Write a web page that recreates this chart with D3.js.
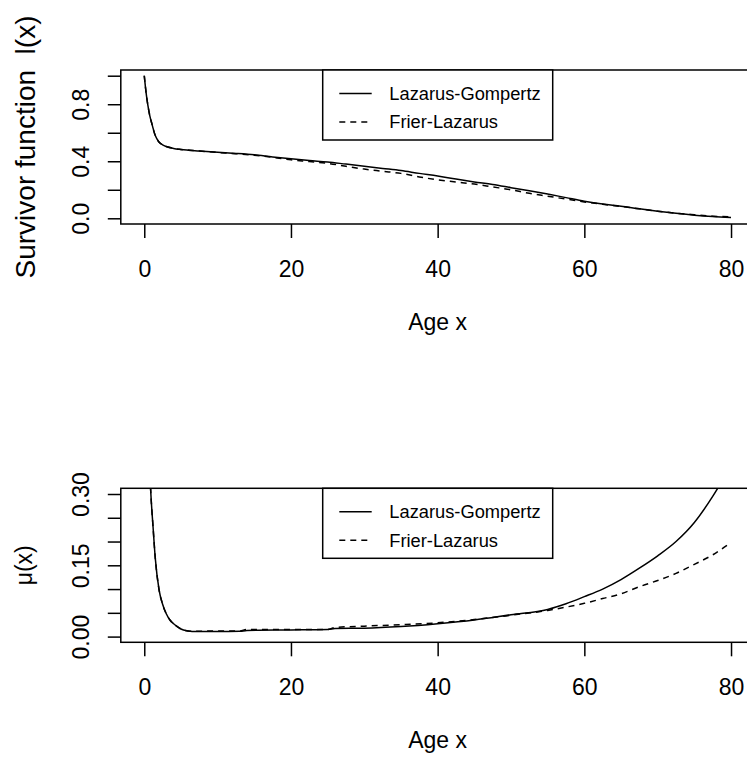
<!DOCTYPE html>
<html>
<head>
<meta charset="utf-8">
<script src="https://cdn.jsdelivr.net/npm/d3@7"></script>
<style>
  html, body { margin: 0; padding: 0; background: #fff; }
  svg { display: block; font-family: "Liberation Sans", Arial, Helvetica, sans-serif; }
</style>
</head>
<body>
<svg id="chart" width="747" height="760"></svg>
<script>
// Age grid and survivor function l(x) for the two fitted models
const agesL = [0, 0.25, 0.5, 0.75, 1, 1.5, 2, 2.5, 3, 4, 5,
  7.5, 10, 12.5, 15, 17.5, 20, 22.5, 25, 27.5, 30, 32.5, 35, 37.5, 40,
  42.5, 45, 47.5, 50, 52.5, 55, 57.5, 60, 62.5, 65, 67.5, 70, 72.5, 75, 77.5, 80];
const survLG = [1.0, 0.88, 0.79, 0.72, 0.67, 0.58, 0.535, 0.515, 0.503, 0.49, 0.483,
  0.472, 0.463, 0.455, 0.445, 0.43, 0.417, 0.405, 0.395, 0.38, 0.365, 0.35, 0.335, 0.315, 0.297,
  0.275, 0.255, 0.237, 0.215, 0.193, 0.17, 0.145, 0.12, 0.1, 0.085, 0.067, 0.05, 0.035, 0.022, 0.012, 0.005];
const survFL = [1.0, 0.88, 0.79, 0.72, 0.67, 0.58, 0.535, 0.515, 0.503, 0.49, 0.483,
  0.472, 0.462, 0.453, 0.442, 0.428, 0.41, 0.398, 0.385, 0.365, 0.345, 0.33, 0.315, 0.29, 0.27,
  0.255, 0.24, 0.22, 0.2, 0.175, 0.155, 0.135, 0.115, 0.098, 0.083, 0.067, 0.05, 0.036, 0.025, 0.015, 0.01];

// Age grid and force of mortality mu(x)
const agesMu = [0, 0.5, 0.9, 1.2, 1.5, 2, 2.5, 3, 3.5, 4, 4.5, 5, 6, 7, 10, 13, 14, 20, 25, 26,
  30, 35, 40, 45, 50, 55, 57.5, 60, 62.5, 65, 67.5, 70, 72.5, 75, 77.5, 80];
const muLG = [0.8, 0.45, 0.30, 0.23, 0.165, 0.10, 0.068, 0.048, 0.035, 0.027, 0.021, 0.016, 0.012, 0.0105, 0.0105, 0.011, 0.013, 0.014, 0.015, 0.017,
  0.0176, 0.021, 0.027, 0.035, 0.046, 0.057, 0.069, 0.084, 0.1, 0.12, 0.144, 0.17, 0.2, 0.24, 0.295, 0.36];
const muFL = [0.8, 0.45, 0.30, 0.23, 0.165, 0.10, 0.068, 0.048, 0.035, 0.027, 0.021, 0.016, 0.012, 0.011, 0.012, 0.012, 0.015, 0.015, 0.015, 0.019,
  0.022, 0.025, 0.029, 0.036, 0.045, 0.055, 0.062, 0.070, 0.08, 0.09, 0.105, 0.118, 0.133, 0.152, 0.172, 0.198];

const xTicks = [0, 20, 40, 60, 80];
const survTicks = [0, 0.2, 0.4, 0.6, 0.8, 1.0];
const survTickLabels = ["0.0", "", "0.4", "", "0.8", ""];
const muTicks = [0, 0.05, 0.10, 0.15, 0.20, 0.25, 0.30];
const muTickLabels = ["0.00", "", "", "0.15", "", "", "0.30"];
const seriesNames = ["Lazarus-Gompertz", "Frier-Lazarus"];

const svg = d3.select("#chart");
const DASH = "6 5";
const LW = 1.5;

// x scale shared by both panels (range padded 4% each side like R's default)
const x = d3.scaleLinear().domain([-3.2, 83.2]).range([120.8, 754.5]);

function panel(opts) {
  const { top, bottom, yDomain, yTicks, yLabels, ages, s1, s2, ylab, ylabSize, ylabX, id } = opts;
  const y = d3.scaleLinear().domain(yDomain).range([bottom, top]);
  const g = svg.append("g");

  g.append("clipPath").attr("id", id)
    .append("rect")
    .attr("x", x.range()[0]).attr("y", top)
    .attr("width", x.range()[1] - x.range()[0]).attr("height", bottom - top);

  const line = d3.line().curve(d3.curveMonotoneX).x((d, i) => x(ages[i])).y(d => y(d));
  const plot = g.append("g").attr("clip-path", `url(#${id})`);
  plot.append("path").datum(s1).attr("d", line)
    .attr("fill", "none").attr("stroke", "#000").attr("stroke-width", LW).attr("stroke-linejoin", "round");
  plot.append("path").datum(s2).attr("d", line)
    .attr("fill", "none").attr("stroke", "#000").attr("stroke-width", LW)
    .attr("stroke-dasharray", DASH);

  // plot box
  g.append("rect")
    .attr("x", x.range()[0]).attr("y", top)
    .attr("width", x.range()[1] - x.range()[0]).attr("height", bottom - top)
    .attr("fill", "none").attr("stroke", "#000").attr("stroke-width", LW);

  // x axis
  const xa = g.append("g").attr("transform", `translate(0,${bottom})`)
    .call(d3.axisBottom(x).tickValues(xTicks).tickSize(14).tickSizeOuter(0).tickFormat(d3.format("d")));
  xa.select(".domain").remove();
  xa.selectAll(".tick line").attr("stroke", "#000").attr("stroke-width", LW);
  xa.selectAll(".tick text").attr("y", 53).attr("dy", null)
    .attr("font-size", 23).attr("fill", "#000")
    .attr("font-family", "Liberation Sans, Arial, sans-serif");

  // y axis with rotated labels
  const ya = g.append("g").attr("transform", `translate(${x.range()[0]},0)`)
    .call(d3.axisLeft(y).tickValues(yTicks).tickSize(13).tickSizeOuter(0)
      .tickFormat((d, i) => yLabels[i]));
  ya.select(".domain").remove();
  ya.selectAll(".tick line").attr("stroke", "#000").attr("stroke-width", LW);
  ya.selectAll(".tick text")
    .attr("transform", "rotate(-90)")
    .attr("x", 0).attr("y", -31.7).attr("dy", null)
    .attr("text-anchor", "middle")
    .attr("font-size", 23).attr("fill", "#000")
    .attr("font-family", "Liberation Sans, Arial, sans-serif");

  // axis titles
  g.append("text")
    .attr("x", (x.range()[0] + x.range()[1]) / 2).attr("y", bottom + 105.5)
    .attr("text-anchor", "middle").attr("font-size", 23).text("Age x");
  g.append("text")
    .attr("transform", `translate(${ylabX},${(top + bottom) / 2}) rotate(-90)`)
    .attr("text-anchor", "middle").attr("font-size", ylabSize)
    .style("white-space", "pre").text(ylab);

  // legend
  const lx0 = 322.7, lx1 = 552.7;
  const lg = g.append("g");
  lg.append("rect").attr("x", lx0).attr("y", top).attr("width", lx1 - lx0).attr("height", 70)
    .attr("fill", "#fff").attr("stroke", "#000").attr("stroke-width", LW);
  const rows = [top + 23.5, top + 52];
  seriesNames.forEach((name, i) => {
    lg.append("line").attr("x1", 339.3).attr("x2", 371.7).attr("y1", rows[i]).attr("y2", rows[i])
      .attr("stroke", "#000").attr("stroke-width", LW)
      .attr("stroke-dasharray", i === 1 ? DASH : null);
    lg.append("text").attr("x", 389.3).attr("y", rows[i]).attr("dy", "0.35em")
      .attr("font-size", 18.3).text(name);
  });
}

panel({
  id: "clipTop", top: 70, bottom: 224, yDomain: [-0.04, 1.04],
  yTicks: survTicks, yLabels: survTickLabels, ages: agesL, s1: survLG, s2: survFL,
  ylab: "Survivor function  l(x)", ylabSize: 28, ylabX: 35
});
panel({
  id: "clipBottom", top: 488.3, bottom: 642.3, yDomain: [-0.012, 0.312],
  yTicks: muTicks, yLabels: muTickLabels, ages: agesMu, s1: muLG, s2: muFL,
  ylab: "\u03bc(x)", ylabSize: 23, ylabX: 32
});
</script>
</body>
</html>
